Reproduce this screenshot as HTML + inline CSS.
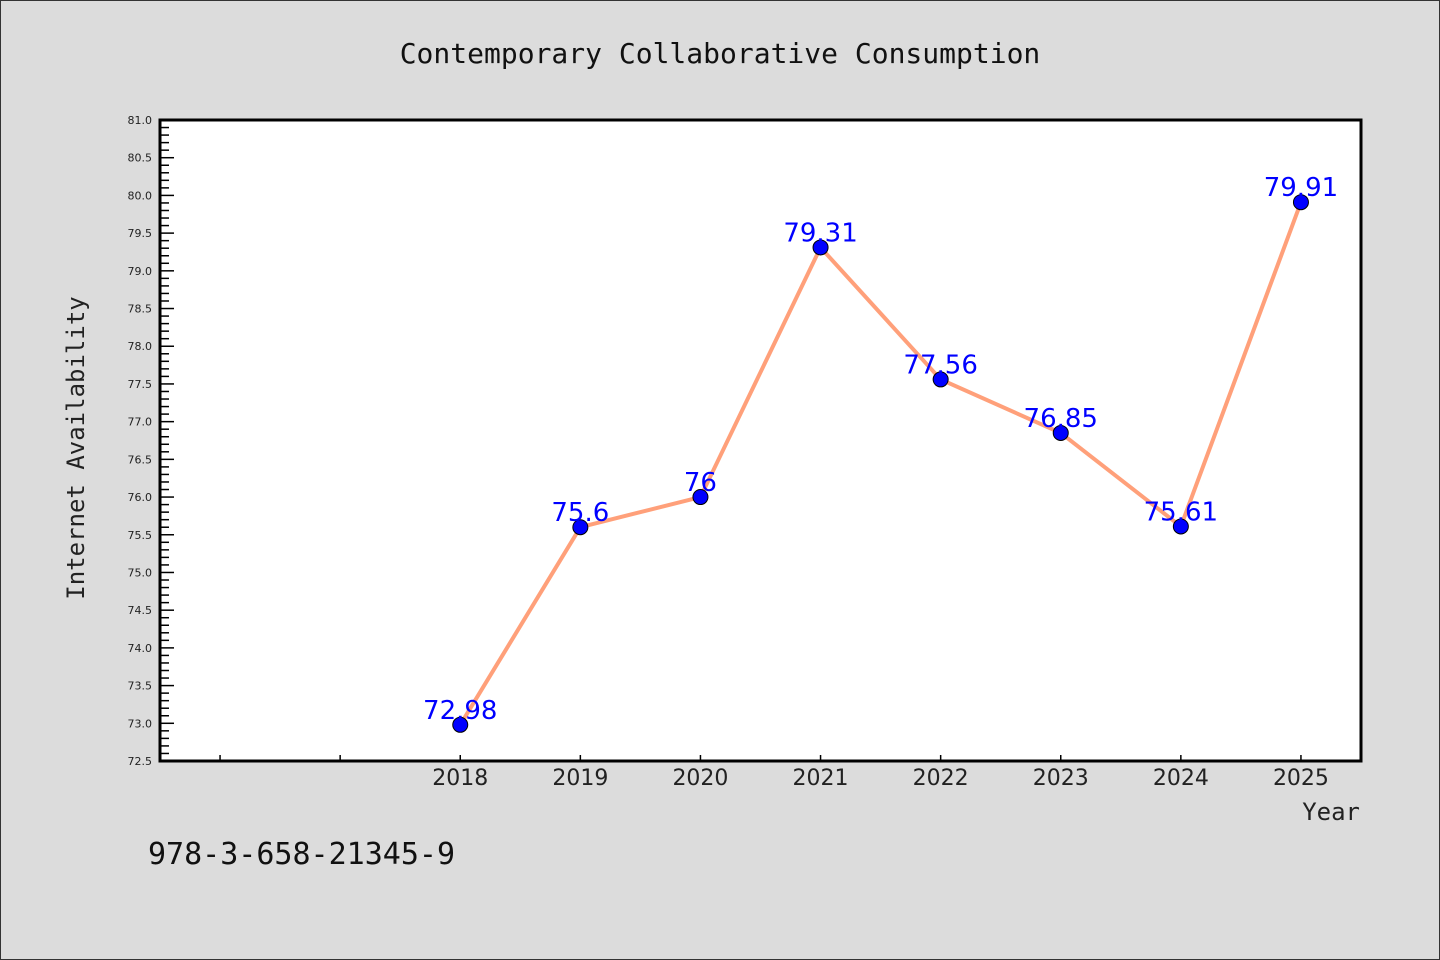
<!DOCTYPE html>
<html><head><meta charset="utf-8"><style>
html,body{margin:0;padding:0;background:#dcdcdc;}
svg{display:block;}
</style></head><body>
<svg id="chart" width="1440" height="960" xmlns="http://www.w3.org/2000/svg">
<rect x="0.5" y="0.5" width="1439" height="959" fill="#dcdcdc" stroke="#333"/>
<text x="720" y="63" text-anchor="middle" font-family="'DejaVu Sans Mono','Liberation Mono',monospace" font-size="28" fill="#111">Contemporary Collaborative Consumption</text>
<rect x="160" y="120" width="1201" height="641" fill="#fff"/>
<g id="axes"></g>
<g id="series"></g>
<rect x="160" y="120" width="1201" height="641" fill="none" stroke="#000" stroke-width="3"/>
<text transform="translate(84,448) rotate(-90)" text-anchor="middle" font-family="'DejaVu Sans Mono','Liberation Mono',monospace" font-size="24" fill="#222">Internet Availability</text>
<text x="1360" y="820" text-anchor="end" font-family="'DejaVu Sans Mono','Liberation Mono',monospace" font-size="24" fill="#222">Year</text>
<text x="148" y="864" font-family="'DejaVu Sans Mono','Liberation Mono',monospace" font-size="30" fill="#111">978-3-658-21345-9</text>
</svg>
<script>
const years = [2018, 2019, 2020, 2021, 2022, 2023, 2024, 2025];
const values = [72.98, 75.6, 76, 79.31, 77.56, 76.85, 75.61, 79.91];
const valueLabels = ["72.98", "75.6", "76", "79.31", "77.56", "76.85", "75.61", "79.91"];
const yTickLabels = ["72.5","73.0","73.5","74.0","74.5","75.0","75.5","76.0","76.5","77.0","77.5","78.0","78.5","79.0","79.5","80.0","80.5","81.0"];
const xMinorYears = [2016, 2017];

const NS = "http://www.w3.org/2000/svg";
const L = 160, R = 1361, T = 120, B = 761;
const yMin = 72.5, yMax = 81.0, xMin = 2015.5, xMax = 2025.5;
const xs = v => L + (v - xMin) / (xMax - xMin) * (R - L);
const ys = v => B - (v - yMin) / (yMax - yMin) * (B - T);
const axes = document.getElementById('axes');
const series = document.getElementById('series');
function mk(tag, attrs, parent) {
  const e = document.createElementNS(NS, tag);
  for (const k in attrs) e.setAttribute(k, attrs[k]);
  parent.appendChild(e);
  return e;
}
// y minor ticks
for (let i = 0; i <= Math.round((yMax - yMin) * 10); i++) {
  const v = yMin + i * 0.1;
  const y = ys(v);
  const major = i % 5 === 0;
  const t = mk('line', {x1: L, x2: L + (major ? 14 : 9), y1: y, y2: y, stroke: '#000', 'stroke-width': 1.5}, axes);
  
  
}
yTickLabels.forEach(s => {
  const tx = mk('text', {x: 152, y: ys(parseFloat(s)) + 4, 'text-anchor': 'end', 'font-family': "'DejaVu Sans','Liberation Sans',sans-serif", 'font-size': 11, fill: '#222'}, axes);
  tx.textContent = s;
  
  
});
xMinorYears.concat(years).forEach(yr => {
  const t = mk('line', {x1: xs(yr), x2: xs(yr), y1: B, y2: B - 6, stroke: '#000', 'stroke-width': 1.5}, axes);
  
  
});
years.forEach(yr => {
  const tx = mk('text', {x: xs(yr), y: 785, 'text-anchor': 'middle', 'font-family': "'DejaVu Sans','Liberation Sans',sans-serif", 'font-size': 22, fill: '#222'}, axes);
  tx.textContent = String(yr);
  
  
});
const pts = years.map((yr, i) => xs(yr) + ',' + ys(values[i])).join(' ');
const line = mk('polyline', {points: pts, fill: 'none', stroke: '#ffa07a', 'stroke-width': 4, 'stroke-linejoin': 'round'}, series);


years.forEach((yr, i) => {
  const c = mk('circle', {cx: xs(yr), cy: ys(values[i]), r: 7.5, fill: '#0000ff', stroke: '#000', 'stroke-width': 1}, series);
  
  
});
years.forEach((yr, i) => {
  const tx = mk('text', {x: xs(yr), y: ys(values[i]) - 6, 'text-anchor': 'middle', 'font-family': "'DejaVu Sans','Liberation Sans',sans-serif", 'font-size': 26, fill: '#0000ff'}, series);
  tx.textContent = valueLabels[i];
  
  
});
</script>
</body></html>
